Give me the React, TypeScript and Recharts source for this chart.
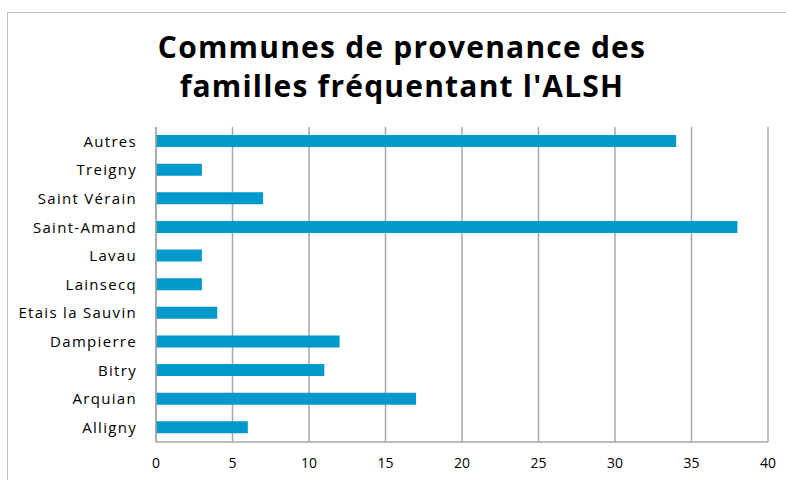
import React from 'react';
import { BarChart, Bar, XAxis, YAxis, CartesianGrid } from 'recharts';

const communes = [
  'Autres',
  'Treigny',
  'Saint Vérain',
  'Saint-Amand',
  'Lavau',
  'Lainsecq',
  'Etais la Sauvin',
  'Dampierre',
  'Bitry',
  'Arquian',
  'Alligny',
];
const familles = [34, 3, 7, 38, 3, 3, 4, 12, 11, 17, 6];
const xTicks = [0, 5, 10, 15, 20, 25, 30, 35, 40];

const titleLines = ['Communes de provenance des', "familles fréquentant l'ALSH"];

const BAR_COLOR = '#0099CC';
const GRID = '#A6A6A6';
const FONT = '"Century Gothic", "Open Sans", "DejaVu Sans", sans-serif';

const data = communes.map((name, i) => ({ name, value: familles[i] }));

export default function App() {
  return (
    <div style={{ position: 'absolute', left: 0, top: 0, width: 786, height: 480, overflow: 'hidden', background: '#fff' }}>
      {/* chart frame, runs off the right and bottom */}
      <div
        style={{
          position: 'absolute',
          left: 7,
          top: 12,
          width: 800,
          height: 500,
          border: '1px solid #BFBFBF',
        }}
      />
      <svg width={786} height={110} style={{ position: 'absolute', left: 0, top: 0 }}>
        {titleLines.map((line, i) => (
          <text
            key={line}
            x={402}
            y={58 + i * 39}
            textAnchor="middle"
            fontFamily={FONT}
            fontWeight={700}
            fontSize={30}
            letterSpacing={1.2}
            fill="#000"
          >
            {line}
          </text>
        ))}
      </svg>
      <div style={{ position: 'absolute', left: 0, top: 0 }}>
        <BarChart
          width={786}
          height={480}
          data={data}
          layout="vertical"
          margin={{ top: 127, right: 18, bottom: 0, left: 0 }}
          barSize={12}
        >
          <CartesianGrid horizontal={false} stroke={GRID} strokeWidth={1.5} />
          <XAxis
            type="number"
            domain={[0, 40]}
            ticks={xTicks}
            interval={0}
            stroke={GRID}
            strokeWidth={1.5}
            tickLine={false}
            tickSize={0}
            tickMargin={16}
            tick={{ fill: '#000', fontSize: 14, fontFamily: FONT }}
            height={38}
          />
          <YAxis
            type="category"
            dataKey="name"
            width={156}
            stroke={GRID}
            strokeWidth={1.5}
            tickLine={false}
            tickSize={0}
            tickMargin={19}
            interval={0}
            tick={{ fill: '#000', fontSize: 15, fontFamily: FONT, letterSpacing: 1.3 }}
          />
          <Bar dataKey="value" fill={BAR_COLOR} isAnimationActive={false} />
        </BarChart>
      </div>
    </div>
  );
}
